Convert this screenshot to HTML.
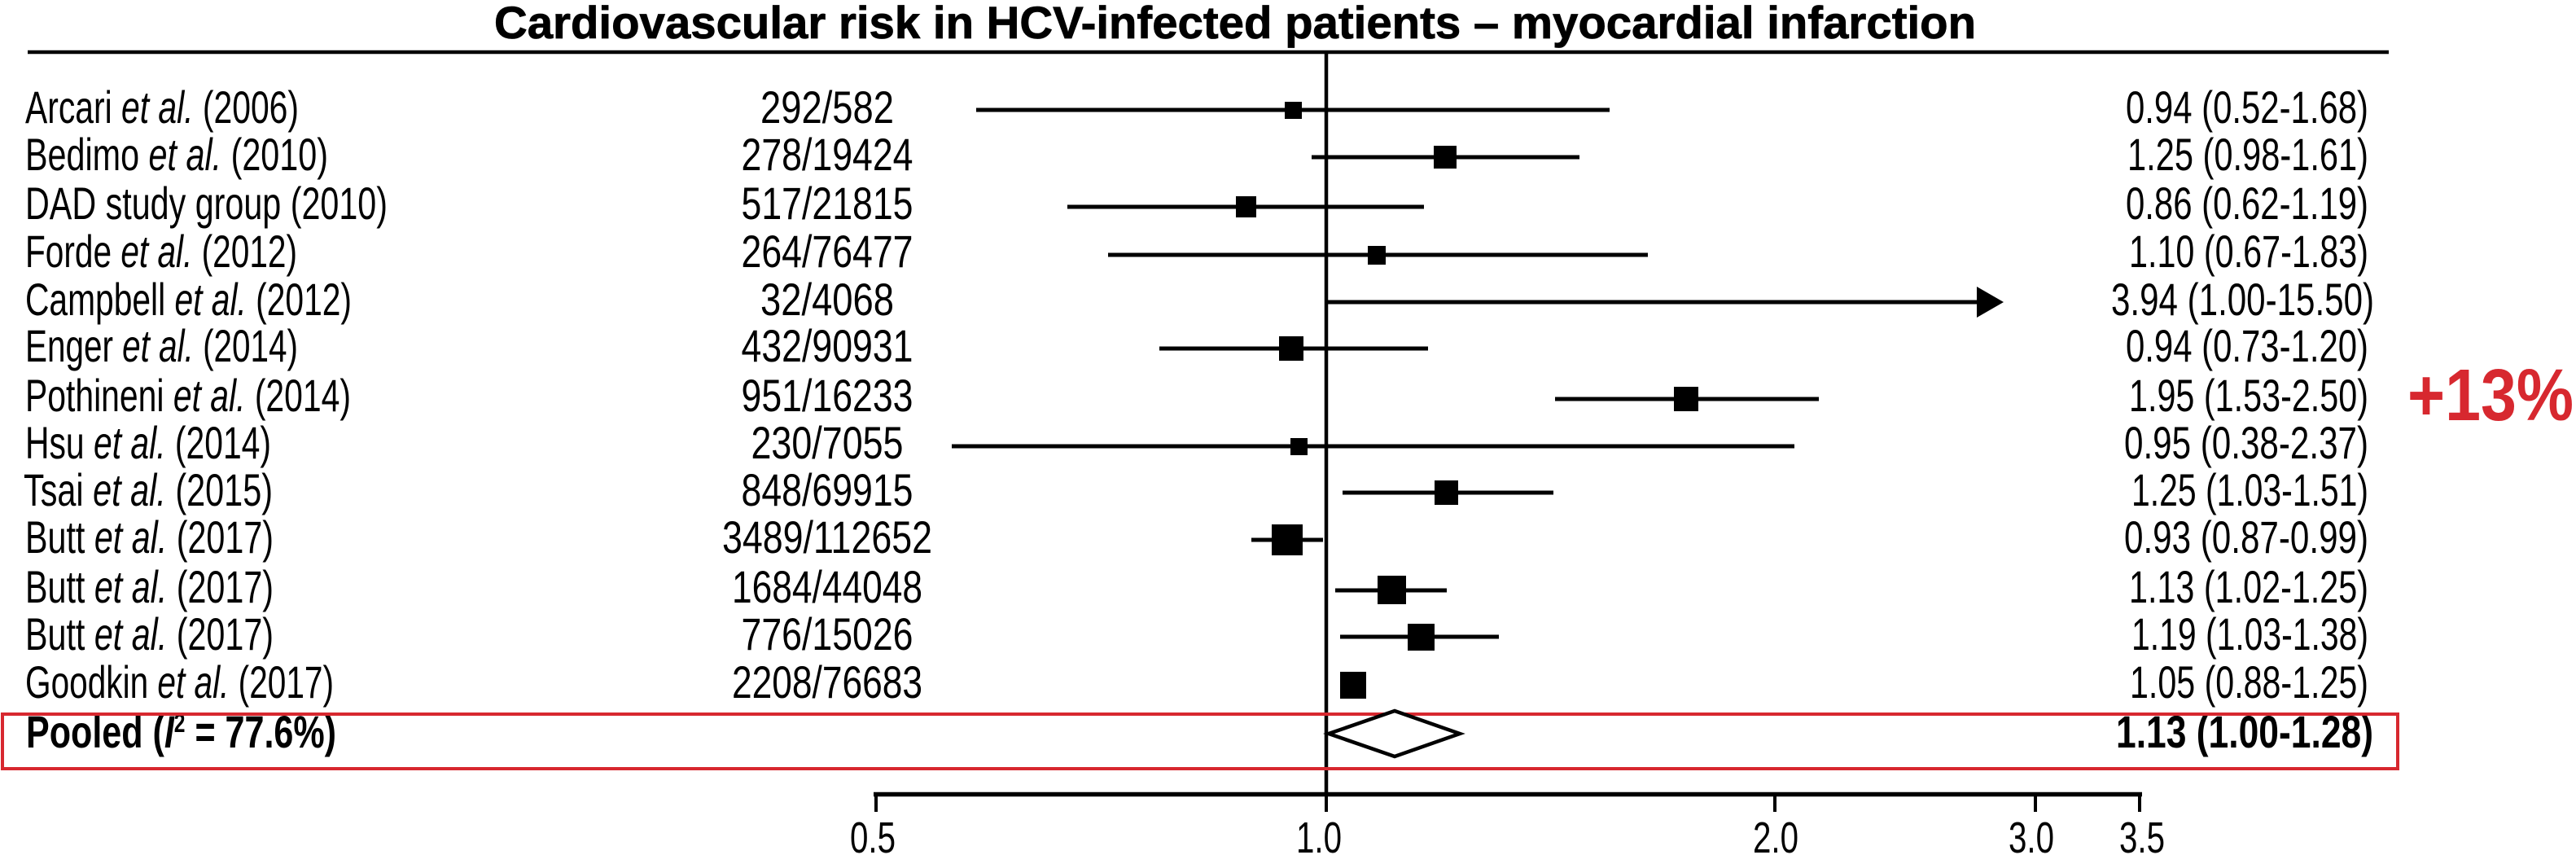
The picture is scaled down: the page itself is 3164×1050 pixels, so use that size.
<!DOCTYPE html>
<html><head><meta charset="utf-8"><style>
html,body{margin:0;padding:0;background:#fff;}
svg{display:block;}
text{font-family:"Liberation Sans",sans-serif;fill:#000;}
</style></head><body>
<svg width="3164" height="1050" viewBox="0 0 3164 1050" xmlns="http://www.w3.org/2000/svg">
<rect width="3164" height="1050" fill="#fff"/>

<!-- Title -->
<text x="607" y="47" font-size="56" font-weight="bold" stroke="#000" stroke-width="0.8" textLength="1820" lengthAdjust="spacingAndGlyphs">Cardiovascular risk in HCV-infected patients – myocardial infarction</text>
<line x1="34" y1="64" x2="2934" y2="64" stroke="#000" stroke-width="4.5"/>

<!-- vertical reference axis at 1.0 -->
<line x1="1629" y1="64" x2="1629" y2="977" stroke="#000" stroke-width="4.5"/>

<!-- horizontal axis -->
<line x1="1073" y1="975.5" x2="2631" y2="975.5" stroke="#000" stroke-width="5.5"/>
<g stroke="#000" stroke-width="4">
<line x1="1076" y1="975" x2="1076" y2="997"/>
<line x1="1629" y1="975" x2="1629" y2="997"/>
<line x1="2180" y1="975" x2="2180" y2="997"/>
<line x1="2500" y1="975" x2="2500" y2="997"/>
<line x1="2628" y1="975" x2="2628" y2="997"/>
</g>
<g font-size="54" text-anchor="middle">
<text x="1072" y="1047" textLength="56" lengthAdjust="spacingAndGlyphs">0.5</text>
<text x="1620" y="1047" textLength="56" lengthAdjust="spacingAndGlyphs">1.0</text>
<text x="2181" y="1047" textLength="56" lengthAdjust="spacingAndGlyphs">2.0</text>
<text x="2495" y="1047" textLength="56" lengthAdjust="spacingAndGlyphs">3.0</text>
<text x="2631" y="1047" textLength="56" lengthAdjust="spacingAndGlyphs">3.5</text>
</g>

<!-- Left labels -->
<g font-size="56">
<text x="31" y="151" textLength="336" lengthAdjust="spacingAndGlyphs">Arcari <tspan font-style="italic">et al.</tspan> (2006)</text>
<text x="31" y="209" textLength="372" lengthAdjust="spacingAndGlyphs">Bedimo <tspan font-style="italic">et al.</tspan> (2010)</text>
<text x="31" y="269" textLength="445" lengthAdjust="spacingAndGlyphs">DAD study group (2010)</text>
<text x="31" y="328" textLength="334" lengthAdjust="spacingAndGlyphs">Forde <tspan font-style="italic">et al.</tspan> (2012)</text>
<text x="31" y="387" textLength="401" lengthAdjust="spacingAndGlyphs">Campbell <tspan font-style="italic">et al.</tspan> (2012)</text>
<text x="31" y="444" textLength="335" lengthAdjust="spacingAndGlyphs">Enger <tspan font-style="italic">et al.</tspan> (2014)</text>
<text x="31" y="505" textLength="400" lengthAdjust="spacingAndGlyphs">Pothineni <tspan font-style="italic">et al.</tspan> (2014)</text>
<text x="31" y="563" textLength="302" lengthAdjust="spacingAndGlyphs">Hsu <tspan font-style="italic">et al.</tspan> (2014)</text>
<text x="29" y="621" textLength="306" lengthAdjust="spacingAndGlyphs">Tsai <tspan font-style="italic">et al.</tspan> (2015)</text>
<text x="31" y="679" textLength="305" lengthAdjust="spacingAndGlyphs">Butt <tspan font-style="italic">et al.</tspan> (2017)</text>
<text x="31" y="740" textLength="305" lengthAdjust="spacingAndGlyphs">Butt <tspan font-style="italic">et al.</tspan> (2017)</text>
<text x="31" y="798" textLength="305" lengthAdjust="spacingAndGlyphs">Butt <tspan font-style="italic">et al.</tspan> (2017)</text>
<text x="31" y="857" textLength="379" lengthAdjust="spacingAndGlyphs">Goodkin <tspan font-style="italic">et al.</tspan> (2017)</text>
<text x="32" y="918" font-weight="bold" textLength="381" lengthAdjust="spacingAndGlyphs">Pooled (<tspan font-style="italic">I</tspan><tspan dy="-19" font-size="32">2</tspan><tspan dy="19"> = 77.6%)</tspan></text>
</g>

<!-- Middle column -->
<g font-size="56" text-anchor="middle">
<text x="1016" y="151" textLength="164" lengthAdjust="spacingAndGlyphs">292/582</text>
<text x="1016" y="209" textLength="211" lengthAdjust="spacingAndGlyphs">278/19424</text>
<text x="1016" y="269" textLength="211" lengthAdjust="spacingAndGlyphs">517/21815</text>
<text x="1016" y="328" textLength="211" lengthAdjust="spacingAndGlyphs">264/76477</text>
<text x="1016" y="387" textLength="164" lengthAdjust="spacingAndGlyphs">32/4068</text>
<text x="1016" y="444" textLength="211" lengthAdjust="spacingAndGlyphs">432/90931</text>
<text x="1016" y="505" textLength="211" lengthAdjust="spacingAndGlyphs">951/16233</text>
<text x="1016" y="563" textLength="187" lengthAdjust="spacingAndGlyphs">230/7055</text>
<text x="1016" y="621" textLength="211" lengthAdjust="spacingAndGlyphs">848/69915</text>
<text x="1016" y="679" textLength="258" lengthAdjust="spacingAndGlyphs">3489/112652</text>
<text x="1016" y="740" textLength="234" lengthAdjust="spacingAndGlyphs">1684/44048</text>
<text x="1016" y="798" textLength="211" lengthAdjust="spacingAndGlyphs">776/15026</text>
<text x="1016" y="857" textLength="234" lengthAdjust="spacingAndGlyphs">2208/76683</text>
</g>

<!-- Right column -->
<g font-size="56" text-anchor="end">
<text x="2909" y="151" textLength="298" lengthAdjust="spacingAndGlyphs">0.94 (0.52-1.68)</text>
<text x="2909" y="209" textLength="296" lengthAdjust="spacingAndGlyphs">1.25 (0.98-1.61)</text>
<text x="2909" y="269" textLength="298" lengthAdjust="spacingAndGlyphs">0.86 (0.62-1.19)</text>
<text x="2909" y="328" textLength="294" lengthAdjust="spacingAndGlyphs">1.10 (0.67-1.83)</text>
<text x="2916" y="387" textLength="323" lengthAdjust="spacingAndGlyphs">3.94 (1.00-15.50)</text>
<text x="2909" y="444" textLength="298" lengthAdjust="spacingAndGlyphs">0.94 (0.73-1.20)</text>
<text x="2909" y="505" textLength="294" lengthAdjust="spacingAndGlyphs">1.95 (1.53-2.50)</text>
<text x="2909" y="563" textLength="300" lengthAdjust="spacingAndGlyphs">0.95 (0.38-2.37)</text>
<text x="2909" y="621" textLength="291" lengthAdjust="spacingAndGlyphs">1.25 (1.03-1.51)</text>
<text x="2909" y="679" textLength="300" lengthAdjust="spacingAndGlyphs">0.93 (0.87-0.99)</text>
<text x="2909" y="740" textLength="294" lengthAdjust="spacingAndGlyphs">1.13 (1.02-1.25)</text>
<text x="2909" y="798" textLength="291" lengthAdjust="spacingAndGlyphs">1.19 (1.03-1.38)</text>
<text x="2909" y="857" textLength="293" lengthAdjust="spacingAndGlyphs">1.05 (0.88-1.25)</text>
<text x="2915" y="918" font-weight="bold" textLength="316" lengthAdjust="spacingAndGlyphs">1.13 (1.00-1.28)</text>
</g>

<!-- CI lines -->
<g stroke="#000" stroke-width="5">
<line x1="1199" y1="135" x2="1977" y2="135"/>
<line x1="1611" y1="193" x2="1940" y2="193"/>
<line x1="1311" y1="254" x2="1749" y2="254"/>
<line x1="1361" y1="313" x2="2024" y2="313"/>
<line x1="1629" y1="371" x2="2432" y2="371"/>
<line x1="1424" y1="428" x2="1754" y2="428"/>
<line x1="1910" y1="490" x2="2234" y2="490"/>
<line x1="1169" y1="548" x2="2204" y2="548"/>
<line x1="1649" y1="605" x2="1908" y2="605"/>
<line x1="1537" y1="663" x2="1625" y2="663"/>
<line x1="1640" y1="725" x2="1777" y2="725"/>
<line x1="1646" y1="782" x2="1841" y2="782"/>
</g>
<polygon points="2428,352 2461,371 2428,390" fill="#000"/>

<!-- squares -->
<g fill="#000">
<rect x="1578" y="125" width="21" height="21"/>
<rect x="1761" y="179" width="28" height="28"/>
<rect x="1518" y="241" width="25" height="26"/>
<rect x="1680" y="302" width="22" height="23"/>
<rect x="1571" y="413" width="30" height="30"/>
<rect x="2056" y="475" width="30" height="30"/>
<rect x="1585" y="538" width="21" height="21"/>
<rect x="1762" y="590" width="29" height="30"/>
<rect x="1562" y="644" width="38" height="38"/>
<rect x="1692" y="707" width="35" height="35"/>
<rect x="1729" y="766" width="33" height="33"/>
<rect x="1646" y="825" width="32" height="33"/>
</g>

<!-- pooled box -->
<rect x="3" y="877" width="2942" height="67" fill="none" stroke="#d7282f" stroke-width="4"/>

<!-- diamond -->
<polygon points="1632,901 1713,873 1793,901 1713,929" fill="#fff" stroke="#000" stroke-width="4.5" stroke-linejoin="miter"/>

<!-- +13% -->
<text x="2957" y="516" font-size="90" font-weight="bold" fill="#d7282f" style="fill:#d7282f" textLength="204" lengthAdjust="spacingAndGlyphs">+13%</text>
</svg>
</body></html>
